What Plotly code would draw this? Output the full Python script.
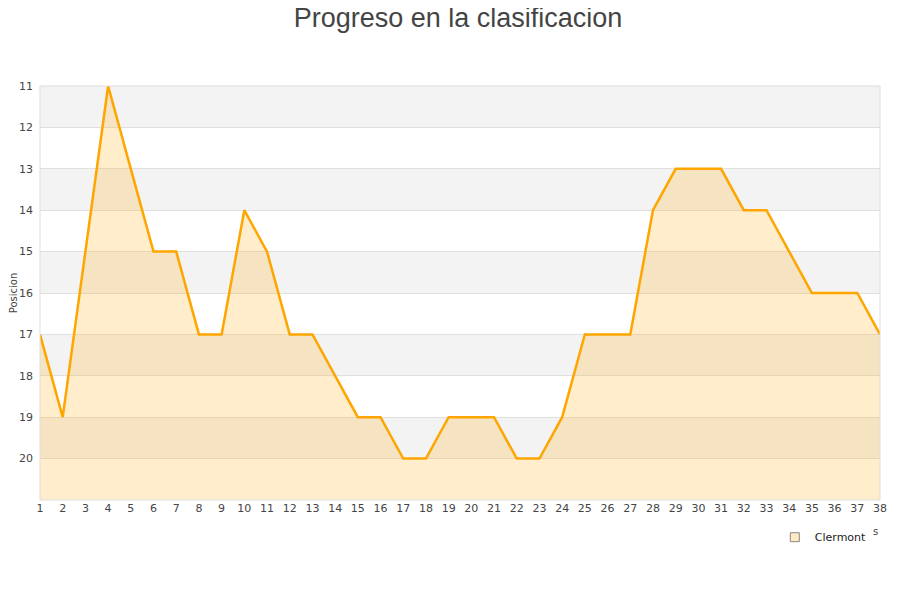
import plotly.graph_objects as go

jornadas = list(range(1, 39))
posiciones = [17, 19, 15, 11, 13, 15, 15, 17, 17, 14, 15, 17, 17, 18, 19, 19, 20, 20, 19, 19,
              19, 20, 20, 19, 17, 17, 17, 14, 13, 13, 13, 14, 14, 15, 16, 16, 16, 17]
equipo = "Clermont"
y_ticks = list(range(11, 21))
fondo = 21

fig = go.Figure()
fig.add_trace(go.Scatter(x=jornadas, y=[fondo] * len(jornadas), mode="lines",
                         line=dict(width=0), showlegend=False, hoverinfo="skip"))
fig.add_trace(go.Scatter(x=jornadas, y=posiciones, mode="lines", fill="tonexty",
                         fillcolor="rgba(255,165,0,0.2)",
                         line=dict(color="#FFA500", width=2.5), showlegend=False, name=equipo))
fig.add_trace(go.Scatter(x=[None], y=[None], mode="markers", name=equipo,
                         marker=dict(symbol="square", size=9, color="#FFE9C2",
                                     line=dict(color="#888888", width=1))))

shapes = []
for k in range(11, 21, 2):
    shapes.append(dict(type="rect", xref="paper", yref="y", x0=0, x1=1, y0=k, y1=k + 1,
                       fillcolor="#F3F3F3", line=dict(width=0), layer="below"))
shapes.append(dict(type="rect", xref="paper", yref="paper", x0=0, x1=1, y0=0, y1=1,
                   line=dict(color="#DDDDDD", width=1), layer="above"))

fig.update_layout(
    width=900, height=600,
    margin=dict(l=32, r=28, t=78, b=108, autoexpand=False),
    paper_bgcolor="white", plot_bgcolor="white",
    title=dict(text="Progreso en la clasificacion", x=0.5, xanchor="center",
               y=1.0, yanchor="top", pad=dict(t=0, b=0),
               font=dict(family="Liberation Sans, Arial", size=27, color="#444444")),
    font=dict(family="DejaVu Sans, Verdana", size=11, color="#444444"),
    shapes=shapes,
    showlegend=True,
    legend=dict(xref="container", yref="container", x=0.852, y=0.118,
                xanchor="left", yanchor="middle", itemwidth=30,
                font=dict(family="DejaVu Sans, Verdana", size=11, color="#222222"),
                bgcolor="rgba(0,0,0,0)"),
    annotations=[dict(text="s", xref="paper", yref="paper", x=0.995, y=-0.075,
                      showarrow=False, xanchor="center", yanchor="middle",
                      font=dict(size=10, color="#444444"))],
)
fig.update_xaxes(range=[1, 38], tickmode="array", tickvals=jornadas, ticktext=[str(j) for j in jornadas],
                 showgrid=False, zeroline=False, showline=False, ticks="", automargin=False,
                 tickfont=dict(size=11, color="#444444"))
fig.update_yaxes(range=[21, 11], tickmode="array", tickvals=y_ticks, ticktext=[str(v) for v in y_ticks],
                 showgrid=True, gridcolor="#E0E0E0", gridwidth=1, zeroline=False, showline=False,
                 ticks="", automargin=False, ticklabelstandoff=6, tickfont=dict(size=11, color="#444444"),
                 title=dict(text="Posicion", font=dict(size=10, color="#444444"), standoff=4))

fig.write_html("out.html")
